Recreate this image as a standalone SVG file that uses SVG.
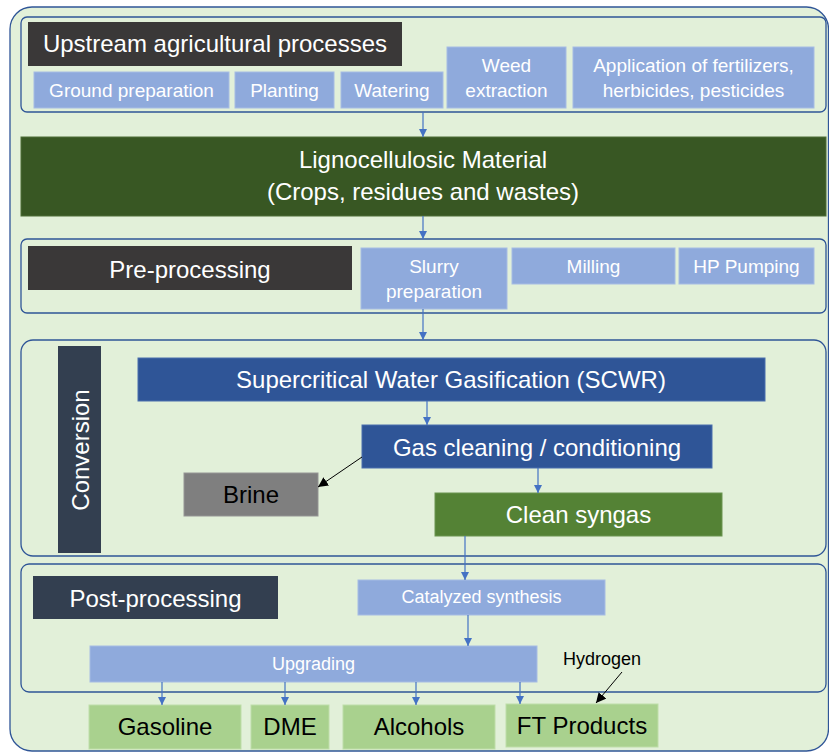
<svg xmlns="http://www.w3.org/2000/svg" width="829" height="752" viewBox="0 0 829 752">
  <style>
    text { font-family: "Liberation Sans", Arial, sans-serif; }
    .frame { fill: none; stroke: #2F5597; stroke-width: 1.3; }
    .dark { fill: #3A3838; }
    .slate { fill: #333F50; }
    .step { fill: #8FAADC; stroke: #A6BCE4; stroke-width: 1; }
    .core { fill: #2F5597; stroke: #4A6FAE; stroke-width: 1; }
    .prod { fill: #A9D18E; stroke: #BEDDA9; stroke-width: 1; }
    .w24 { fill: #FFFFFF; font-size: 24px; text-anchor: middle; }
    .k24 { fill: #000000; font-size: 24px; text-anchor: middle; }
    .w18 { fill: #FFFFFF; font-size: 19px; text-anchor: middle; }
    .w17 { fill: #FFFFFF; font-size: 18px; text-anchor: middle; }
    .flow { stroke: #4472C4; stroke-width: 1.2; fill: none; marker-end: url(#blueHead); }
    .side { stroke: #000000; stroke-width: 1; fill: none; marker-end: url(#blackHead); }
  </style>
  <defs>
    <marker id="blueHead" viewBox="0 0 10 10" refX="10" refY="5" markerWidth="8" markerHeight="8" markerUnits="userSpaceOnUse" orient="auto">
      <path d="M0,0 L10,5 L0,10 Z" fill="#4472C4"/>
    </marker>
    <marker id="blackHead" viewBox="0 0 10 10" refX="10" refY="5" markerWidth="10" markerHeight="10" markerUnits="userSpaceOnUse" orient="auto">
      <path d="M0,0 L10,5 L0,10 Z" fill="#000000"/>
    </marker>
  </defs>

  <!-- background panel -->
  <rect x="10" y="7" width="818.5" height="744" rx="22" fill="#E2F0D9" stroke="#2F5597" stroke-width="1.3"/>

  <!-- upstream stage -->
  <g id="upstream">
    <rect class="frame" x="21" y="17" width="805" height="95" rx="6"/>
    <rect class="dark" x="28" y="22" width="374" height="44"/>
    <text class="w24" x="215" y="52">Upstream agricultural processes</text>
  </g>
  <g id="ground-preparation">
    <rect class="step" x="34" y="72" width="195" height="36"/>
    <text class="w18" x="131.5" y="97">Ground preparation</text>
  </g>
  <g id="planting">
    <rect class="step" x="235" y="72" width="99" height="36"/>
    <text class="w18" x="284.5" y="97">Planting</text>
  </g>
  <g id="watering">
    <rect class="step" x="341" y="72" width="102" height="36"/>
    <text class="w18" x="392" y="97">Watering</text>
  </g>
  <g id="weed-extraction">
    <rect class="step" x="447" y="47" width="119" height="61"/>
    <text class="w18" x="506.5" y="72">Weed</text>
    <text class="w18" x="506.5" y="97">extraction</text>
  </g>
  <g id="agrochemicals">
    <rect class="step" x="573" y="47" width="241" height="61"/>
    <text class="w18" x="693.5" y="72">Application of fertilizers,</text>
    <text class="w18" x="693.5" y="97">herbicides, pesticides</text>
  </g>

  <!-- feedstock -->
  <g id="lignocellulosic">
    <rect x="21" y="137" width="805" height="79" fill="#385723" stroke="#4E6E38" stroke-width="1"/>
    <text class="w24" x="423" y="168">Lignocellulosic Material</text>
    <text class="w24" x="423" y="200">(Crops, residues and wastes)</text>
  </g>

  <!-- pre-processing stage -->
  <g id="preprocessing">
    <rect class="frame" x="21" y="239" width="805" height="74" rx="6"/>
    <rect class="dark" x="28" y="246" width="324" height="44"/>
    <text class="w24" x="190" y="278">Pre-processing</text>
  </g>
  <g id="slurry">
    <rect class="step" x="361" y="248" width="146" height="61"/>
    <text class="w18" x="434" y="273">Slurry</text>
    <text class="w18" x="434" y="298">preparation</text>
  </g>
  <g id="milling">
    <rect class="step" x="512" y="248" width="163" height="36"/>
    <text class="w18" x="593.5" y="273">Milling</text>
  </g>
  <g id="hp-pumping">
    <rect class="step" x="679" y="248" width="135" height="36"/>
    <text class="w18" x="746.5" y="273">HP Pumping</text>
  </g>

  <!-- conversion stage -->
  <g id="conversion">
    <rect class="frame" x="21" y="340" width="805" height="216" rx="12"/>
    <rect class="slate" x="58" y="346" width="43" height="207"/>
    <text class="w24" transform="translate(89 450) rotate(-90)" x="0" y="0">Conversion</text>
  </g>
  <g id="scwg">
    <rect class="core" x="138" y="358" width="627" height="43"/>
    <text class="w24" x="451" y="388">Supercritical Water Gasification (SCWR)</text>
  </g>
  <g id="gas-cleaning">
    <rect class="core" x="362" y="425" width="350" height="43"/>
    <text class="w24" x="537" y="456">Gas cleaning / conditioning</text>
  </g>
  <g id="brine">
    <rect x="184" y="473" width="134" height="43" fill="#7F7F7F" stroke="#959595" stroke-width="1"/>
    <text class="k24" x="251" y="503">Brine</text>
  </g>
  <g id="clean-syngas">
    <rect x="435" y="493" width="287" height="43" fill="#548235" stroke="#6A9450" stroke-width="1"/>
    <text class="w24" x="578.5" y="523">Clean syngas</text>
  </g>

  <!-- post-processing stage -->
  <g id="postprocessing">
    <rect class="frame" x="21" y="564" width="805" height="128" rx="8"/>
    <rect class="slate" x="33" y="576" width="245" height="43"/>
    <text class="w24" x="155.5" y="607">Post-processing</text>
  </g>
  <g id="catalyzed-synthesis">
    <rect class="step" x="358" y="580" width="247" height="35"/>
    <text class="w17" x="481.5" y="603">Catalyzed synthesis</text>
  </g>
  <g id="upgrading">
    <rect class="step" x="90" y="646" width="447" height="36"/>
    <text class="w17" x="313.5" y="670">Upgrading</text>
  </g>
  <g id="hydrogen">
    <text x="602" y="665" font-size="18px" fill="#000000" text-anchor="middle">Hydrogen</text>
  </g>

  <!-- products -->
  <g id="gasoline">
    <rect class="prod" x="89" y="705" width="152" height="44"/>
    <text class="k24" x="165" y="735">Gasoline</text>
  </g>
  <g id="dme">
    <rect class="prod" x="251" y="705" width="78" height="44"/>
    <text class="k24" x="290" y="735">DME</text>
  </g>
  <g id="alcohols">
    <rect class="prod" x="343" y="705" width="152" height="44"/>
    <text class="k24" x="419" y="735">Alcohols</text>
  </g>
  <g id="ft-products">
    <rect class="prod" x="506" y="704" width="152" height="43"/>
    <text class="k24" x="582" y="734">FT Products</text>
  </g>

  <!-- connectors -->
  <g id="connectors">
    <line class="flow" x1="423" y1="112" x2="423" y2="137"/>
    <line class="flow" x1="423" y1="216" x2="423" y2="239"/>
    <line class="flow" x1="423" y1="309" x2="423" y2="340"/>
    <line class="flow" x1="427" y1="401" x2="427" y2="425"/>
    <line class="flow" x1="538" y1="468" x2="538" y2="493"/>
    <line class="flow" x1="465" y1="536" x2="465" y2="580"/>
    <line class="flow" x1="468" y1="615" x2="468" y2="646"/>
    <line class="flow" x1="162" y1="682" x2="162" y2="705"/>
    <line class="flow" x1="285" y1="682" x2="285" y2="705"/>
    <line class="flow" x1="416" y1="682" x2="416" y2="705"/>
    <line class="flow" x1="520" y1="682" x2="520" y2="704"/>
    <line class="side" x1="362" y1="457" x2="318" y2="487"/>
    <line class="side" x1="622" y1="672" x2="596" y2="703"/>
  </g>
</svg>
